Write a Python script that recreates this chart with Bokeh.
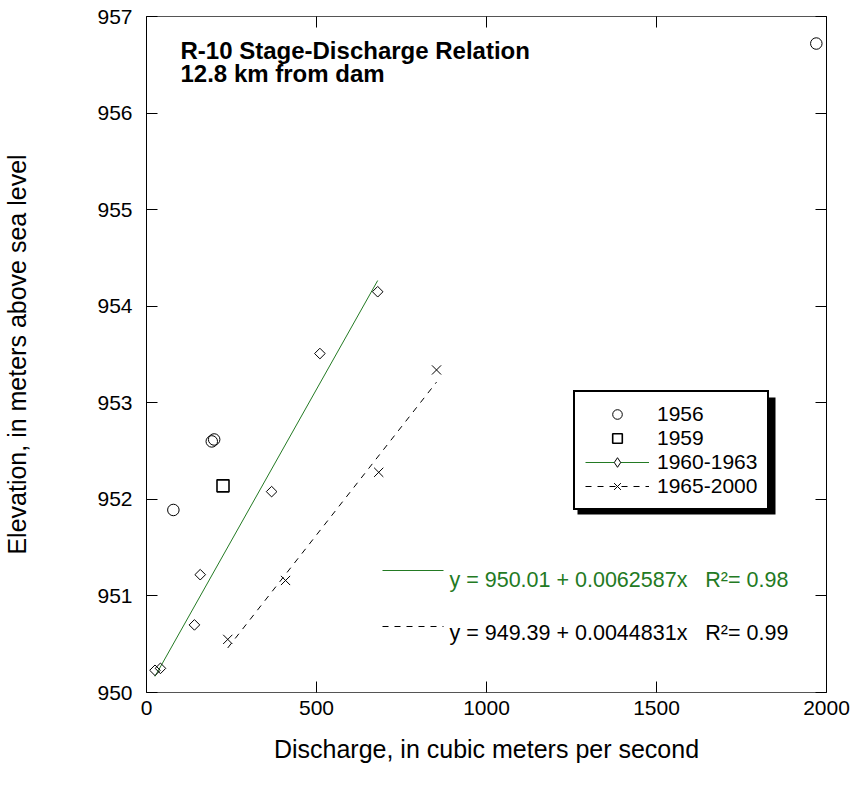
import numpy as np
from bokeh.plotting import figure
from bokeh.models import (Range1d, LinearAxis, Legend, LegendItem, Label,
                          BoxAnnotation, Arrow, FixedTicker)
from bokeh.embed import file_html
from bokeh.resources import INLINE

# ---------------- data ----------------
q_1956 = [79, 192, 199, 1970]
z_1956 = [951.89, 952.60, 952.62, 956.72]

q_1959 = [225]
z_1959 = [952.14]

q_1960_63 = [25, 41, 141, 158, 368, 510, 680]
z_1960_63 = [950.23, 950.25, 950.70, 951.22, 952.08, 953.51, 954.15]

q_1965_00 = [239, 409, 683, 853]
z_1965_00 = [950.55, 951.16, 952.28, 953.34]

fit_intercepts = [950.01, 949.39]
fit_slopes = [0.0062587, 0.0044831]
fit_r2 = [0.98, 0.99]

x_ticks = [0, 500, 1000, 1500, 2000]
y_ticks = [950, 951, 952, 953, 954, 955, 956, 957]

series_labels = ["1956", "1959", "1960-1963", "1965-2000"]
title_lines = ["R-10 Stage-Discharge Relation", "12.8 km from dam"]

FONT = "Liberation Sans"
GREEN = "#237a23"

p = figure(width=857, height=786, x_range=Range1d(0, 2000), y_range=Range1d(950, 957),
           output_backend="svg", toolbar_location=None,
           min_border_left=146, min_border_right=31, min_border_top=16, min_border_bottom=94,
           x_axis_label="Discharge, in cubic meters per second",
           y_axis_label="Elevation, in meters above sea level")
p.outline_line_color = None
p.grid.visible = False
p.background_fill_color = "white"
p.border_fill_color = "white"

for ax, ticks in ((p.xaxis[0], x_ticks), (p.yaxis[0], y_ticks)):
    ax.ticker = FixedTicker(ticks=ticks)
    ax.major_tick_in = 11
    ax.major_tick_out = 0
    ax.minor_tick_in = 0
    ax.minor_tick_out = 0
    ax.major_label_text_font = FONT
    ax.major_label_text_font_size = "21px"
    ax.major_label_text_color = "black"
    ax.axis_label_text_font = FONT
    ax.axis_label_text_font_size = "25px"
    ax.axis_label_text_font_style = "normal"
    ax.axis_label_text_color = "black"
    ax.major_tick_line_color = "black"

p.xaxis[0].axis_line_color = "#555555"
p.xaxis[0].major_label_standoff = 8
p.xaxis[0].axis_label_standoff = 17
p.yaxis[0].axis_line_color = "black"
p.yaxis[0].major_label_standoff = 14
p.yaxis[0].axis_label_standoff = 63

top_ax = LinearAxis(ticker=FixedTicker(ticks=x_ticks), major_tick_in=11, major_tick_out=0,
                    minor_tick_in=0, minor_tick_out=0, major_label_text_font_size="1px",
                    major_label_text_color=None, major_label_standoff=0,
                    axis_line_color="#555555")
right_ax = LinearAxis(ticker=FixedTicker(ticks=y_ticks), major_tick_in=11, major_tick_out=0,
                      minor_tick_in=0, minor_tick_out=0, major_label_text_font_size="1px",
                      major_label_text_color=None, major_label_standoff=0,
                      axis_line_color="black")
p.add_layout(top_ax, "above")
p.add_layout(right_ax, "right")

# ---------------- marks ----------------
r56 = p.scatter(q_1956, z_1956, marker="circle", size=11.5, fill_color=None,
                line_color="black", line_width=1)
r59 = p.scatter(q_1959, z_1959, marker="square", size=12, fill_color=None,
                line_color="black", line_width=1.6)

def fit_line(qs, a, b):
    xs = np.array([min(qs), max(qs)], dtype=float)
    return xs, a + b * xs

gx, gy = fit_line(q_1960_63, fit_intercepts[0], fit_slopes[0])
dx, dy = fit_line(q_1965_00, fit_intercepts[1], fit_slopes[1])

l6063 = p.line(gx, gy, line_color=GREEN, line_width=1)
r6063 = p.scatter(q_1960_63, z_1960_63, marker="square", angle=np.pi / 4, size=7.5,
                  fill_color=None, line_color="black", line_width=1)
# legend proxy (legend glyphs ignore angle, so use a diamond marker there)
r6063_leg = p.scatter(q_1960_63, z_1960_63, marker="diamond", size=11,
                      fill_color="white", line_color="black", line_width=1, visible=False)
l6500 = p.line(dx, dy, line_color="black", line_width=1, line_dash="6 6")
r6500 = p.scatter(q_1965_00, z_1965_00, marker="x", size=13, line_color="black", line_width=1)

# ---------------- legend with drop shadow ----------------
shadow = BoxAnnotation(left=431, right=629, bottom=178, top=295,
                       left_units="screen", right_units="screen",
                       bottom_units="screen", top_units="screen",
                       fill_color="black", fill_alpha=1, line_color=None, level="underlay")
p.add_layout(shadow)

legend = Legend(items=[
    LegendItem(label=series_labels[0], renderers=[r56]),
    LegendItem(label=series_labels[1], renderers=[r59]),
    LegendItem(label=series_labels[2], renderers=[l6063, r6063_leg]),
    LegendItem(label=series_labels[3], renderers=[l6500, r6500]),
], location=(427, 182), glyph_width=64, glyph_height=24, spacing=0, padding=10,
    label_standoff=8, label_text_font=FONT, label_text_font_size="21px",
    label_text_color="black", label_height=24,
    border_line_color="black", border_line_width=2, border_line_alpha=1,
    background_fill_color="white", background_fill_alpha=1, margin=0)
p.add_layout(legend, "center")

# ---------------- title ----------------
title_base = [642, 619]
for i, t in enumerate(title_lines):
    p.add_layout(Label(x=34, y=title_base[i], x_units="screen", y_units="screen", text=t,
                       text_font=FONT, text_font_size="24px", text_font_style="bold",
                       text_baseline="alphabetic", text_align="left", text_color="black"))

# ---------------- regression equations ----------------
eq_colors = [GREEN, "black"]
eq_dash = ["solid", "6 6"]
eq_line_y = [122, 66]
eq_text_y = [113, 60]
gap = "\u00a0\u00a0\u00a0"
for i in range(2):
    p.add_layout(Arrow(x_start=236, y_start=eq_line_y[i], x_end=297, y_end=eq_line_y[i],
                       start_units="screen", end_units="screen", start=None, end=None,
                       line_color=eq_colors[i], line_width=1, line_dash=eq_dash[i]))
    txt = f"y = {fit_intercepts[i]:.2f} + {fit_slopes[i]:.7f}x{gap}R\u00b2= {fit_r2[i]:.2f}"
    p.add_layout(Label(x=303, y=eq_text_y[i], x_units="screen", y_units="screen", text=txt,
                       text_font=FONT, text_font_size="21.5px", text_baseline="middle",
                       text_align="left", text_color=eq_colors[i]))

open("out.html", "w").write(file_html(p, INLINE))
